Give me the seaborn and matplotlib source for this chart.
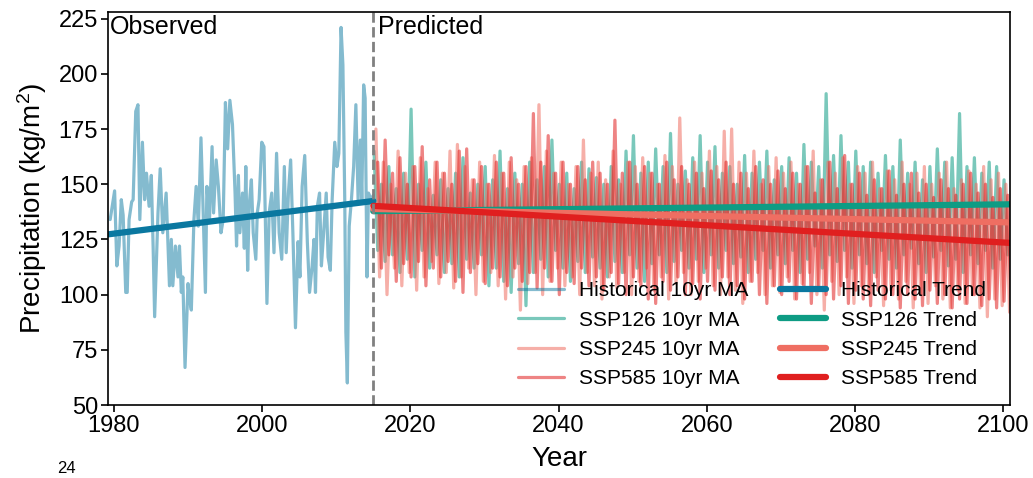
import numpy as np
import pandas as pd
import matplotlib
matplotlib.use('Agg')
import matplotlib.pyplot as plt
import seaborn as sns

sns.set_style('ticks')
plt.rcParams['font.family'] = ['Liberation Sans', 'DejaVu Sans']
plt.rcParams['mathtext.fontset'] = 'custom'
plt.rcParams['mathtext.rm'] = 'Liberation Sans'
plt.rcParams['mathtext.it'] = 'Liberation Sans:italic'
plt.rcParams['lines.solid_joinstyle'] = 'round'
for k in ['text.color', 'axes.labelcolor', 'xtick.color', 'ytick.color']:
    plt.rcParams[k] = 'black'

# ---- observed series ----
hist_years = [1979.5, 1980.1, 1980.4, 1980.7, 1981.0, 1981.25, 1981.6, 1981.8, 1982.05, 1982.4,
              1982.6, 1982.95, 1983.25, 1983.5, 1983.85, 1984.15, 1984.4, 1984.75, 1985.05, 1985.3,
              1985.5, 1985.95, 1986.25, 1986.6, 1987.05, 1987.5, 1987.75, 1987.95, 1988.3, 1988.65,
              1988.85, 1989.1, 1989.3, 1989.6, 1990.0, 1990.2, 1990.45, 1990.8, 1991.1, 1991.4,
              1991.75, 1992.0, 1992.35, 1992.55, 1992.9, 1993.25, 1993.45, 1993.8, 1994.1, 1994.45,
              1994.75, 1995.05, 1995.35, 1995.65, 1996.0, 1996.35, 1996.55, 1996.8, 1997.0, 1997.35,
              1997.6, 1997.8, 1998.05, 1998.25, 1998.55, 1998.8, 1999.15, 1999.35, 1999.6, 1999.95,
              2000.25, 2000.65, 2000.95, 2001.3, 2001.6, 2001.95, 2002.3, 2002.65, 2003.0, 2003.25,
              2003.55, 2003.85, 2004.15, 2004.5, 2004.85, 2005.1, 2005.4, 2005.75, 2006.1, 2006.4,
              2006.75, 2007.0, 2007.2, 2007.45, 2007.75, 2008.0, 2008.3, 2008.65, 2008.9, 2009.2,
              2009.45, 2009.8, 2010.1, 2010.35, 2010.65, 2010.9, 2011.15, 2011.3, 2011.5, 2011.75,
              2012.05, 2012.35, 2012.65, 2012.95, 2013.25, 2013.45, 2013.7, 2013.9, 2014.15, 2014.35,
              2014.7, 2015.0]
hist_vals = [134, 147, 113, 122, 143, 136, 101, 101, 134, 142,
             143, 183, 186, 134, 169, 143, 155, 140, 154, 121,
             90, 137, 157, 128, 146, 104, 125, 104, 122, 108,
             122, 101, 108, 67, 105, 98, 93, 134, 149, 131,
             171, 143, 101, 149, 134, 167, 137, 161, 149, 128,
             134, 187, 166, 188, 177, 146, 122, 154, 128, 146,
             121, 158, 111, 140, 152, 128, 116, 137, 143, 169,
             167, 96, 137, 146, 119, 164, 128, 116, 158, 119,
             146, 161, 128, 85, 124, 108, 149, 163, 124, 101,
             113, 125, 101, 140, 146, 113, 128, 146, 117, 111,
             143, 169, 158, 164, 221, 204, 143, 83, 60, 131,
             143, 158, 186, 143, 170, 143, 195, 189, 108, 146,
             143, 145]

# ---- projected series: yearly high / low of each scenario, 2015-2100 ----
proj_years = list(range(2015, 2101))

ssp126_high = [165, 150, 158, 148, 155, 184, 150, 160, 145, 152,
               148, 155, 162, 146, 150, 158, 152, 165, 148, 155,
               150, 160, 152, 158, 170, 150, 155, 148, 160, 157,
               153, 150, 158, 152, 165, 172, 155, 160, 166, 158,
               173, 150, 156, 162, 172, 160, 167, 155, 158, 150,
               163, 155, 160, 165, 152, 158, 162, 155, 168, 160,
               158, 191, 163, 172, 160, 165, 158, 160, 155, 163,
               158, 170, 155, 160, 152, 158, 166, 160, 162, 182,
               158, 162, 155, 160, 158, 152]
ssp126_low = [120, 115, 118, 110, 116, 108, 120, 112, 118, 110,
              114, 108, 116, 112, 118, 104, 112, 106, 101, 114,
              95, 110, 116, 108, 120, 112, 106, 115, 110, 117,
              112, 108, 115, 110, 118, 112, 106, 114, 118, 110,
              115, 120, 112, 116, 110, 118, 112, 120, 114, 117,
              110, 116, 120, 112, 118, 114, 120, 110, 116, 122,
              112, 118, 115, 120, 112, 118, 114, 110, 120, 116,
              112, 118, 121, 114, 110, 117, 120, 113, 116, 110,
              118, 114, 120, 112, 116, 118]

ssp245_high = [175, 160, 150, 165, 155, 158, 162, 148, 160, 155,
               165, 168, 158, 152, 160, 150, 163, 155, 160, 152,
               158, 162, 186, 165, 155, 160, 150, 158, 170, 155,
               160, 152, 165, 150, 160, 158, 162, 155, 150, 163,
               158, 180, 152, 160, 155, 165, 158, 174, 175, 160,
               155, 165, 150, 158, 162, 155, 160, 150, 158, 165,
               152, 160, 155, 162, 150, 158, 155, 160, 148, 156,
               152, 160, 150, 155, 158, 150, 155, 160, 148, 152,
               156, 150, 158, 152, 155, 150]
ssp245_low = [108, 100, 112, 104, 110, 102, 108, 115, 105, 110,
              103, 108, 112, 100, 106, 110, 104, 98, 108, 93,
              105, 110, 100, 106, 112, 104, 108, 100, 110, 104,
              98, 108, 103, 110, 100, 106, 112, 102, 108, 98,
              105, 110, 100, 106, 112, 104, 100, 108, 102, 96,
              106, 110, 100, 104, 101, 108, 98, 105, 110, 100,
              93, 106, 100, 108, 96, 104, 100, 108, 95, 102,
              98, 106, 94, 100, 96, 104, 98, 94, 102, 96,
              100, 94, 90, 98, 95, 92]

ssp585_high = [160, 170, 155, 162, 150, 158, 167, 152, 160, 155,
               150, 165, 166, 152, 158, 150, 160, 155, 162, 150,
               158, 182, 160, 172, 155, 160, 150, 158, 152, 160,
               155, 150, 179, 155, 160, 150, 158, 155, 150, 160,
               152, 158, 150, 155, 148, 156, 152, 160, 150, 155,
               148, 158, 152, 150, 156, 148, 155, 150, 158, 146,
               152, 160, 148, 163, 150, 155, 145, 152, 148, 156,
               145, 150, 155, 146, 150, 144, 152, 148, 145, 150,
               155, 146, 150, 144, 148, 145]
ssp585_low = [112, 118, 106, 114, 108, 115, 104, 112, 108, 115,
              106, 101, 110, 114, 105, 112, 108, 104, 112, 106,
              110, 103, 112, 106, 100, 110, 105, 112, 104, 108,
              102, 110, 105, 100, 108, 104, 98, 96, 106, 102,
              108, 100, 105, 98, 106, 102, 108, 100, 104, 98,
              106, 100, 96, 104, 100, 106, 98, 102, 96, 104,
              100, 98, 104, 96, 102, 98, 95, 102, 98, 100,
              94, 100, 98, 95, 102, 96, 100, 94, 98, 96,
              100, 95, 98, 94, 97, 95]

# ---- linear trends (end values) ----
hist_trend_years = [1979, 2015]
hist_trend_vals = [127.2, 142.4]
proj_trend_years = [2015, 2101]
ssp126_trend_vals = [137.8, 140.9]
ssp245_trend_vals = [138.8, 132.7]
ssp585_trend_vals = [140.2, 123.4]

c_hist, c_126, c_245, c_585 = '#0a78a0', '#0e9c84', '#ef6e62', '#e01f1f'


def cycle(high, low, phase):
    t, v = [], []
    for y, h, l in zip(proj_years, high, low):
        t += [y + phase, y + phase + 0.5]
        v += [h, l]
    return pd.DataFrame({'year': t, 'precip': v})


fig, ax = plt.subplots(figsize=(10.33, 4.78), dpi=100)
fig.subplots_adjust(left=0.1045, right=0.9777, bottom=0.1527, top=0.9749)

hist = pd.DataFrame({'year': hist_years, 'precip': hist_vals})
sns.lineplot(data=hist, x='year', y='precip', ax=ax, color=c_hist, alpha=0.5, lw=2.3,
             estimator=None, sort=False, label='Historical 10yr MA')
for name, hi, lo, ph, col in [('SSP126', ssp126_high, ssp126_low, 0.1, c_126),
                              ('SSP245', ssp245_high, ssp245_low, 0.35, c_245),
                              ('SSP585', ssp585_high, ssp585_low, 0.6, c_585)]:
    sns.lineplot(data=cycle(hi, lo, ph), x='year', y='precip', ax=ax, color=col, alpha=0.55,
                 lw=2.3, estimator=None, sort=False, label=name + ' 10yr MA')

sns.lineplot(x=hist_trend_years, y=hist_trend_vals, ax=ax, color=c_hist, lw=4.5,
             label='Historical Trend')
for name, vals, col in [('SSP126', ssp126_trend_vals, c_126),
                        ('SSP245', ssp245_trend_vals, c_245),
                        ('SSP585', ssp585_trend_vals, c_585)]:
    sns.lineplot(x=proj_trend_years, y=vals, ax=ax, color=col, lw=4.5, label=name + ' Trend')

ax.axvline(2015, color='gray', ls='--', lw=2)
ax.text(1979.5, 226.5, 'Observed', fontsize=18, va='top', ha='left')
ax.text(2015.6, 226.5, 'Predicted', fontsize=18, va='top', ha='left')

ax.set_xlim(1979.2, 2100.9)
ax.set_ylim(50, 228)
ax.set_xticks(range(1980, 2101, 20))
ax.set_yticks(range(50, 226, 25))
ax.tick_params(labelsize=17, width=1.2, length=5, pad=2)
ax.set_xlabel('Year', fontsize=20, labelpad=7)
ax.set_ylabel(r'Precipitation (kg/m$^2$)', fontsize=20, labelpad=7)
for s in ax.spines.values():
    s.set_color('black')
    s.set_linewidth(1.2)

ax.legend(ncol=2, loc='lower right', bbox_to_anchor=(0.99, 0.005), frameon=False,
          fontsize=15, handlelength=2.2, labelspacing=0.5, columnspacing=1.5,
          borderaxespad=0.3, handletextpad=0.75)

fig.text(0.055, 0.004, '24', fontsize=12, va='bottom')

fig.savefig('out.png', dpi=100)
